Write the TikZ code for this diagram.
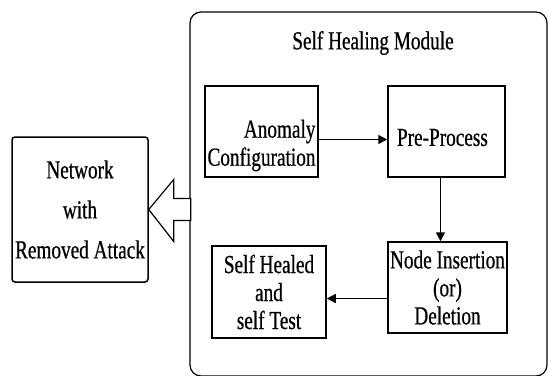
\documentclass[tikz,border=0pt]{standalone}
\usepackage{fontspec}
\setmainfont{Liberation Serif}
\newfontfamily\diagfont{Liberation Serif}[FakeStretch=0.74,FakeBold=0.6]
\usetikzlibrary{arrows.meta,calc}

\begin{document}
\begin{tikzpicture}[
  x=1pt, y=-1pt,
  font=\diagfont\fontsize{26}{28}\selectfont,
  >={Triangle[length=9pt,width=9pt]},
  modulebox/.style={draw, line width=1.2pt, rounded corners=11pt, minimum width=357, minimum height=364},
  box/.style={draw, line width=1.5pt, inner sep=1pt, align=center},
  netbox/.style={box, rounded corners=3pt},
  title/.style={inner sep=0pt},
  flow/.style={->, line width=1.5pt},
  hollow/.style={draw, line width=1.2pt, fill=white, line join=miter}
]
\clip (0,0) rectangle (548,375);

% self healing module
\node[modulebox] (module) at (368.5,194) {};
\node[title] (title) at (373,43) {Self Healing Module};

\node[box, minimum width=113, minimum height=91, align=right] (anomaly) at (261.5,131.5) {\rule{0pt}{46pt}Anomaly\hspace{6pt}\\Configuration};
\node[box, minimum width=117, minimum height=91, text width=109pt, align=left] (pre) at (446.5,131.5) {\rule{0pt}{29pt}\hspace{5pt}Pre-Process};
\node[box, minimum width=119, minimum height=91] (ins) at (447.5,287.5) {Node Insertion\\(or)\\Deletion};
\node[box, minimum width=114, minimum height=92] (heal) at (269,292) {Self Healed\\and\\self Test};

\draw[flow] ([yshift=-8pt]anomaly.east) -- ([yshift=-8pt]anomaly.east -| pre.west);
\draw[flow] ([xshift=-6pt]pre.south) -- ([xshift=-6pt]pre.south |- ins.north);
\draw[flow] ([yshift=-11pt]ins.west) -- ([yshift=-11pt]ins.west -| heal.east);

% network after healing
\node[netbox, minimum width=136, minimum height=145] (net) at (80,209.5) {Network\\[12pt]with\\[12pt]Removed Attack};

% hollow arrow from module to network
\draw[hollow] (net.east) -- ++(25,-30) -- ++(0,19) -- ++(17,0) -- ++(0,22) -- ++(-17,0) -- ++(0,21) -- cycle;

\end{tikzpicture}
\end{document}
